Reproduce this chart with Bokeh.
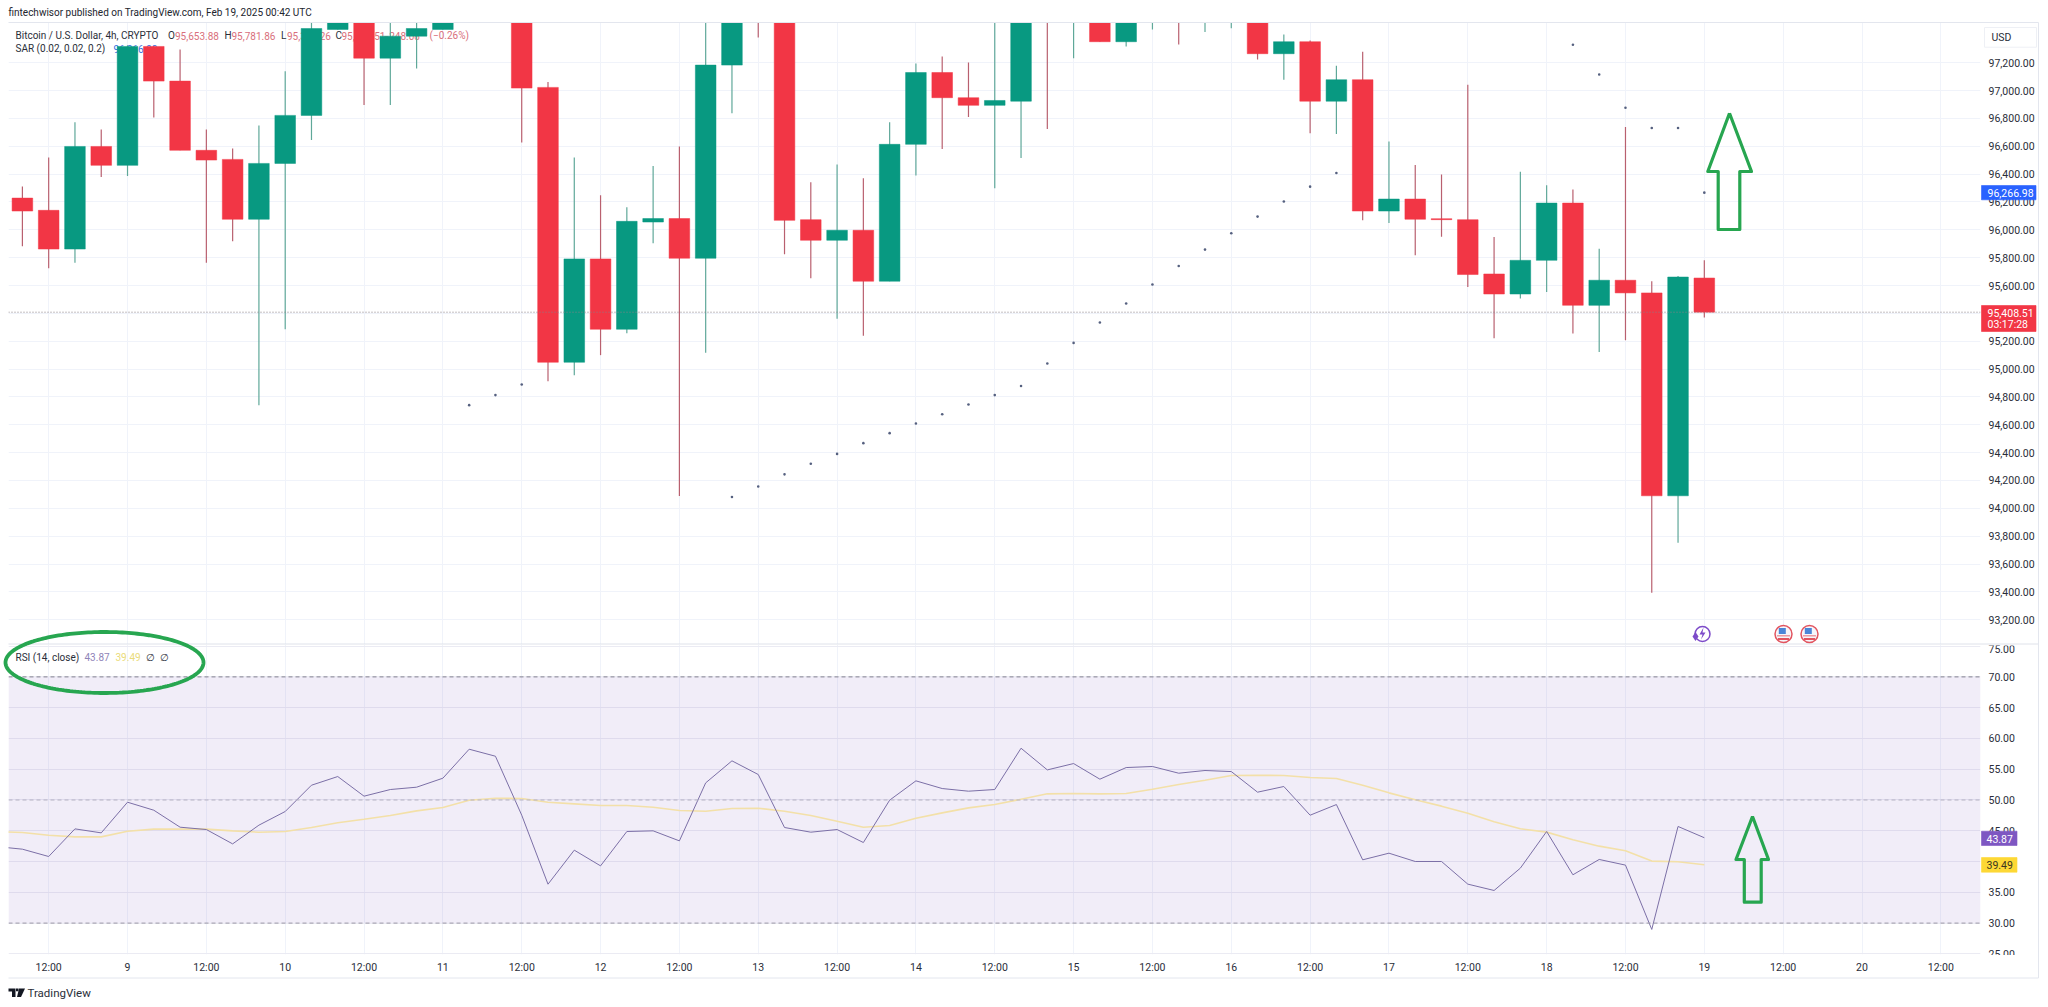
import numpy as np
from bokeh.embed import file_html
from bokeh.resources import INLINE
from bokeh.layouts import column, row
from bokeh.plotting import figure
from bokeh.models import (Range1d, FixedTicker, Grid, Span, BoxAnnotation, Label,
                          NumeralTickFormatter, ColumnDataSource)

# ---------- data (bars are 4h apart, bar 0 = Feb 8 08:00) ----------
opens = [96228,96140,95862,96599,96463,97317,97068,96571,96506,96076,96477,96822,97439,97620,97233,97391,97439,97540,97700,97560,
         97023,95049,95791,95286,96056,96081,95796,97183,97680,97560,96073,95925,95997,95631,96614,97130,96949,96894,96924,97700,
         97590,97720,97351,97560,97680,97580,97600,97640,97265,97351,96924,97078,96135,96221,96080,96073,95683,95539,95781,96192,
         95458,95638,95547,94090,95653.88]
highs = [96312,96520,96772,96721,97325,97320,97295,96721,96585,96750,97138,97520,97650,97680,97520,97550,97600,97720,97800,97620,
         97061,96520,96248,96162,96458,96599,97520,97620,97700,97620,96341,96470,96370,96772,97195,97245,97202,97520,97620,97720,
         97760,97760,97620,97700,97720,97720,97720,97700,97403,97360,97178,97279,96635,96465,96398,97042,95949,96418,96320,96289,
         95865,96738,95631,95668,95781.86]
lows = [95882,95724,95763,96379,96386,96807,96571,95763,95918,94741,95286,96645,97439,96896,96896,97159,97439,97510,97520,96628,
        94913,94956,95100,95257,95903,94088,95117,96838,97382,95824,95652,95361,95239,95631,96391,96580,96810,96298,96515,96724,
        97233,97351,97317,97439,97331,97420,97448,97224,97078,96693,96688,96068,96049,95817,95951,95590,95222,95506,95554,95255,
        95123,95207,93394,93753,95370]
closes = [96135,95862,96599,96463,97317,97068,96571,96501,96076,96477,96822,97446,97620,97233,97391,97446,97540,97650,97560,97018,
          95049,95791,95286,96061,96081,95796,97183,97560,97560,96068,95925,95997,95631,96614,97130,96949,96894,96929,97570,97590,
          97700,97351,97560,97640,97580,97660,97680,97265,97351,96924,97078,96135,96221,96076,96073,95679,95539,95781,96192,95458,
          95638,95547,94090,95661,95408.51]

sar_bars = [17,18,19,27,28,29,30,31,32,33,34,35,36,37,38,39,40,41,42,43,44,45,46,47,48,49,50,59,60,61,62,63,64]
sar_vals = [94741,94813,94889,94081,94157,94244,94320,94391,94468,94540,94609,94676,94746,94813,94879,95040,95188,95334,95471,95607,
            95740,95858,95975,96095,96203,96310,96408,97329,97116,96877,96731,96731,96266.98]

rsi_bars = list(range(-1, 65))
rsi_vals = [42.44,42.01,40.82,45.31,44.66,49.64,48.34,45.58,45.20,42.87,45.91,48.13,52.40,53.81,50.62,51.70,52.08,53.54,58.25,57.11,
            47.53,36.32,41.85,39.30,44.88,44.99,43.36,52.78,56.36,54.14,45.53,44.77,45.20,43.09,49.97,53.11,51.86,51.43,51.70,58.41,
            54.89,55.92,53.38,55.27,55.44,54.35,54.79,54.62,51.27,52.19,47.53,49.26,40.28,41.36,40.01,40.01,36.33,35.30,38.93,44.88,
            37.85,40.34,39.42,28.97,45.70,43.87]
ma_vals = [44.88,44.72,44.28,44.01,44.01,44.93,45.26,45.26,45.26,44.99,44.77,44.88,45.53,46.29,46.88,47.48,48.23,48.78,49.97,50.29,
           50.24,49.64,49.37,49.10,49.10,48.83,48.29,48.18,48.61,48.67,48.18,47.48,46.56,45.58,45.85,47.04,47.91,48.72,49.26,50.13,
           51.00,51.05,51.00,51.05,51.75,52.51,53.22,53.97,54.03,53.97,53.65,53.49,52.40,51.16,50.03,49.00,47.86,46.45,45.32,44.78,
           43.53,42.50,41.75,40.07,39.96,39.49]

time_ticks = [1,4,7,10,13,16,19,22,25,28,31,34,37,40,43,46,49,52,55,58,61,64,67,70,73]
time_labels = ["12:00","9","12:00","10","12:00","11","12:00","12","12:00","13","12:00","14","12:00","15","12:00","16","12:00","17",
               "12:00","18","12:00","19","12:00","20","12:00"]
price_ticks = [93200,93400,93600,93800,94000,94200,94400,94600,94800,95000,95200,95400,95600,95800,96000,96200,96400,96600,96800,97000,97200]
rsi_ticks = [25,30,35,40,45,50,55,60,65,70,75]

# ---------- layout ----------
FONT = "Roboto"
FS = "10.5px"
FL = "10px"
TXT = "#2a2e39"
RED, GREEN = "#F23645", "#089981"
L, R = 8.0, 1980.0
x_rng = Range1d((L-21.9)/26.28, (R-21.9)/26.28)
A_T, A_B = 22.0, 644.0
B_T, B_B = 644.0, 954.0
pa0, pa1 = 93022.0, 97489.0
ra0, ra1 = 24.9, 75.26

def px(v):
    return x_rng.start + (np.asarray(v, dtype=float)-L)/(R-L)*(x_rng.end-x_rng.start)
def ya(v):
    return pa1 - (np.asarray(v, dtype=float)-A_T)/(A_B-A_T)*(pa1-pa0)
def yb(v):
    return ra1 - (np.asarray(v, dtype=float)-B_T)/(B_B-B_T)*(ra1-ra0)

def base(h_frame, top, bottom, yr):
    return figure(frame_width=int(R-L), frame_height=h_frame, width=2040, height=h_frame+top+bottom,
                  min_border_left=int(L), min_border_right=60, min_border_top=top, min_border_bottom=bottom,
                  x_range=x_rng, y_range=yr, y_axis_location="right", output_backend="svg",
                  toolbar_location=None, background_fill_color="white", border_fill_color="white",
                  outline_line_color=None)

def style_y(f, ticks, fmt):
    ax = f.yaxis[0]
    ax.ticker = FixedTicker(ticks=ticks)
    ax.formatter = NumeralTickFormatter(format=fmt)
    ax.axis_line_color = None
    ax.major_tick_line_color = None
    ax.minor_tick_line_color = None
    ax.major_tick_out = 0
    ax.minor_tick_out = 0
    ax.major_label_standoff = 8
    ax.major_label_text_font = FONT
    ax.major_label_text_font_size = FS
    ax.major_label_text_color = TXT
    f.ygrid.grid_line_color = "#f0f3fa"
    f.ygrid.grid_line_width = 1

def lab(f, x, y, text, color=TXT, size=FL, level="annotation", style="normal"):
    f.add_layout(Label(x=float(x), y=float(y), text=text, text_color=color, text_font=FONT,
                       text_font_size=size, text_baseline="middle", level=level, text_font_style=style))

# ---------- price pane ----------
pa = base(int(A_B-A_T), int(A_T), 0, Range1d(pa0, pa1))
pa.xaxis.visible = False
pa.xgrid.visible = False
pa.add_layout(Grid(dimension=0, ticker=FixedTicker(ticks=time_ticks), grid_line_color="#f0f3fa", grid_line_width=1))
style_y(pa, price_ticks, "0,0.00")

bars = list(range(len(opens)))
up = [c >= o for o, c in zip(opens, closes)]
src = ColumnDataSource(dict(
    x=bars, o=opens, h=highs, l=lows, c=closes,
    top=[max(o, c) for o, c in zip(opens, closes)],
    bot=[min(o, c) for o, c in zip(opens, closes)],
    body=[GREEN if u else RED for u in up],
    wick=["#5fa899" if u else "#b9606f" for u in up]))

# legend text lies under the candles in the reference
for x, t, col in [(15, "Bitcoin / U.S. Dollar, 4h, CRYPTO", TXT), (167.5, "O", TXT), (174.5, "95,653.88", "#d9707c"),
                  (224, "H", TXT), (231, "95,781.86", "#d9707c"), (280.5, "L", TXT), (286.5, "95,364.26", "#d9707c"),
                  (335, "C", TXT), (341, "95,408.51", "#d9707c"), (383, "\u2212248.08", "#d9707c"), (429, "(\u22120.26%)", "#d9707c")]:
    lab(pa, px(x), ya(35), t, col, level="underlay")
lab(pa, px(15), ya(48), "SAR (0.02, 0.02, 0.2)", TXT, level="underlay")
lab(pa, px(113), ya(48), "96,266.98", "#3b6fe0", level="underlay")

pa.add_layout(Span(location=closes[-1], dimension="width", line_color="#8a7f86", line_width=1, line_dash="1 2"))
pa.segment("x", "l", "x", "h", source=src, line_color="wick", line_width=1.2)
pa.vbar("x", width=0.785, top="top", bottom="bot", source=src, fill_color="body", line_color="body", line_width=0.5)
pa.scatter(sar_bars, sar_vals, marker="circle", size=2.6, fill_color="#55607f", line_color=None)

# ---------- RSI pane ----------
pb = base(int(B_B-B_T), 0, 46, Range1d(ra0, ra1))
style_y(pb, rsi_ticks, "0.00")
xa = pb.xaxis[0]
xa.ticker = FixedTicker(ticks=time_ticks)
xa.major_label_overrides = {t: s for t, s in zip(time_ticks, time_labels)}
xa.axis_line_color = None
xa.major_tick_line_color = None
xa.minor_tick_line_color = None
xa.major_tick_out = 0
xa.minor_tick_out = 0
xa.major_label_standoff = 6
xa.major_label_text_font = FONT
xa.major_label_text_font_size = FS
xa.major_label_text_color = TXT
pb.xgrid.grid_line_color = "#f0f3fa"
pb.ygrid.grid_line_color = "#ebebf3"

pb.add_layout(BoxAnnotation(bottom=30, top=70, fill_color="#7E57C2", fill_alpha=0.11, line_alpha=0, level="underlay"))
for lvl, col in [(70, "#83808f"), (50, "#b4b1c2"), (30, "#9a97a6")]:
    pb.add_layout(Span(location=lvl, dimension="width", line_color=col, line_width=1, line_dash="4 3"))
pb.line(rsi_bars, ma_vals, line_color="#f3e0a8", line_width=1.6)
pb.line(rsi_bars, rsi_vals, line_color="#7b6fa6", line_width=1)

for x, t, col in [(15, "RSI (14, close)", TXT), (84, "43.87", "#8f84b8"), (115, "39.49", "#eadb7a"), (145.5, "\u2205", TXT), (159, "\u2205", TXT)]:
    lab(pb, px(x), yb(656.7), t, col)

# ---------- transparent page-sized layer for what crosses panes and scales (page pixels) ----------
ov = figure(frame_width=2040, frame_height=1000, width=2040, height=1000, x_range=Range1d(0, 2040), y_range=Range1d(1000, 0),
            min_border=0, x_axis_location=None, y_axis_location=None, output_backend="svg", toolbar_location=None,
            background_fill_alpha=0, border_fill_alpha=0, outline_line_color=None, margin=0,
            styles={"position": "absolute", "left": "0px", "top": "0px"})
ov.grid.visible = False

# the pane edges cut the top and bottom scale labels of the RSI pane in half
ov.quad(left=1982, right=2036, top=636, bottom=645, fill_color="white", line_color=None)
ov.quad(left=1982, right=2036, top=954.5, bottom=964, fill_color="white", line_color=None)

LINE = "#e3e6ee"
for xs, ys, c in [([8, 2038], [22, 22], LINE), ([8, 2038], [643.5, 643.5], "#dfe2ea"),
                  ([8, 2038], [977.5, 977.5], LINE), ([2038, 2038], [22, 977.5], LINE)]:
    ov.line(xs, ys, line_color=c, line_width=1)

def tag(x0, x1, y0, y1, fill):
    ov.quad(left=x0, right=x1, top=y0, bottom=y1, fill_color=fill, line_color=fill, line_alpha=0.6)

ov.quad(left=1984, right=2036, top=27, bottom=46.7, fill_color="white", line_color="#eef0f5")
lab(ov, 1991, 37, "USD", size=FS)
tag(1981, 2035.5, 185, 199.3, "#2962FF")
lab(ov, 1987, 192.2, "96,266.98", "white", size=FS)
tag(1981, 2035.5, 305, 331, RED)
lab(ov, 1987, 312, "95,408.51", "white", size=FS)
lab(ov, 1987, 323.5, "03:17:28", "white", size=FS)
tag(1981, 2016.5, 830.7, 845, "#7E57C2")
lab(ov, 1986, 838, "43.87", "white", size=FS)
tag(1981, 2016.5, 857, 871.7, "#FDD835")
lab(ov, 1986, 864.5, "39.49", "#3a3520", size=FS)

# hand-drawn green marks
ARROW = "#27a650"
ov.line([1729, 1751, 1739.3, 1739.3, 1717.7, 1717.7, 1707.3, 1729], [112.7, 171, 171, 229, 229, 171, 171, 112.7],
        line_color=ARROW, line_width=3.2, line_join="round")
ov.line([1752, 1768, 1760.7, 1760.7, 1743.8, 1743.8, 1735.5, 1752], [816, 859, 859, 901.7, 901.7, 859, 859, 816],
        line_color=ARROW, line_width=3.2, line_join="round")
t = np.linspace(0, 2*np.pi, 200)
ov.line(104.0 + 99.0*np.cos(t), 662.0 + 30.5*np.sin(t), line_color=ARROW, line_width=3.8)

# event icons
for cx in (1783, 1809):
    ov.scatter([cx], [633.5], marker="circle", size=17, fill_color="#f6f6fa", line_color="#e2545f", line_width=1.5)
    ov.rect([cx], [638.5], width=11, height=2, fill_color="#e2545f", line_color=None)
    ov.rect([cx], [635.3], width=13, height=1.2, fill_color="#e2545f", fill_alpha=0.7, line_color=None)
    ov.rect([cx-1.2], [630.5], width=7, height=6, fill_color="#4a86d8", line_color=None)
ov.scatter([1702], [633.5], marker="circle", size=15, fill_color="white", line_color="#7d4bc9", line_width=1.5)
ov.patch([1703, 1699, 1702, 1700.5, 1705, 1702], [627, 634, 634, 639, 632, 632], fill_color="#7d4bc9", line_color=None)
ov.scatter([1695], [636], marker="diamond", size=9, fill_color="#7d4bc9", line_color=None)

# header and footer
lab(ov, 8, 12, "fintechwisor published on TradingView.com, Feb 19, 2025 00:42 UTC", "#22252e")
lab(ov, 27, 992.5, "TradingView", TXT, size="11.5px")
ov.patch([8, 15, 15, 11.5, 11.5, 8], [988, 988, 996.5, 996.5, 991, 991], fill_color="#131722", line_color=None)
ov.patch([18.5, 24.5, 20.5, 16.5], [988, 988, 996.5, 996.5], fill_color="#131722", line_color=None)
ov.patch([15.5, 18, 18, 15.5], [988, 988, 990.7, 990.7], fill_color="#131722", line_color=None)

page = row(column(pa, pb, spacing=0), ov, spacing=0)
open("out.html", "w").write(file_html(page, INLINE))
